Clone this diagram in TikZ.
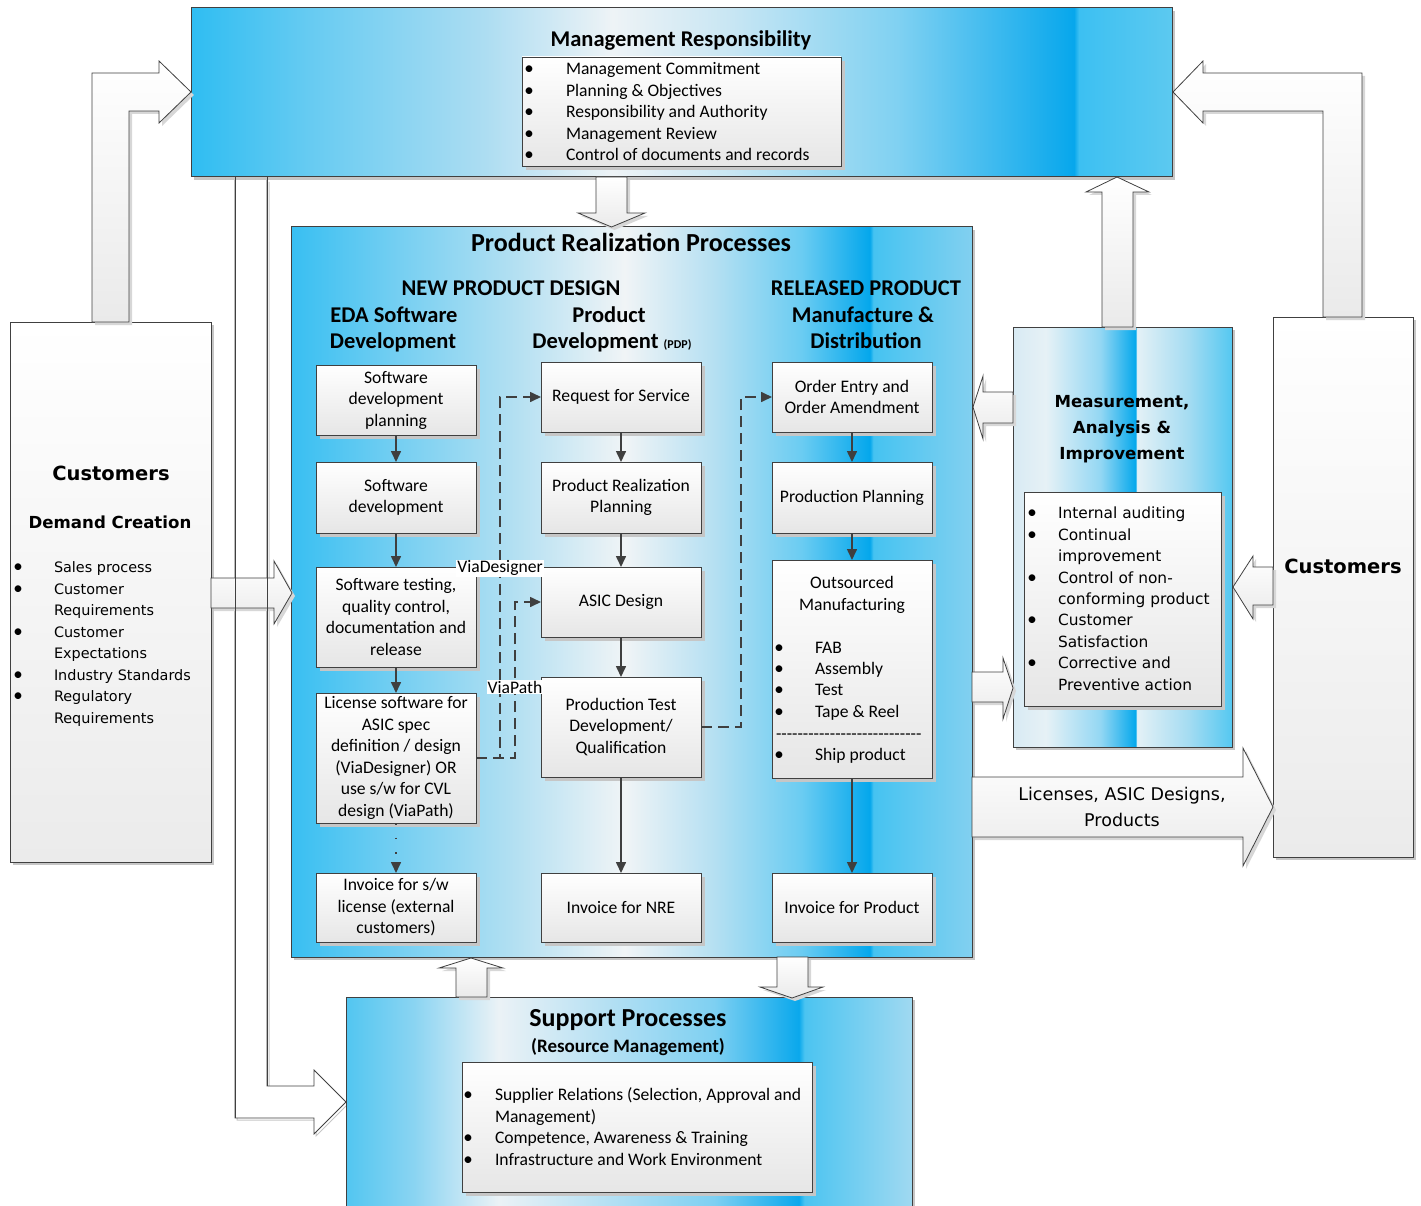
\documentclass[tikz,border=0pt]{standalone}
\usepackage{fontspec}
\setmainfont{Carlito}
\newfontfamily\dvfont{DejaVu Sans}
\usetikzlibrary{arrows.meta,shadows}

% general colours
\definecolor{edgec}{HTML}{404040}
\definecolor{shadowc}{HTML}{C6C6C6}
\definecolor{boxlow}{HTML}{E6E6E6}
\definecolor{arrlow}{HTML}{EAEAEA}
\definecolor{linec}{HTML}{3F3F3F}

% band colours: management responsibility
\definecolor{ma0}{HTML}{2FBDF2}\definecolor{ma1}{HTML}{66CBF2}\definecolor{ma2}{HTML}{ADDDF2}
\definecolor{ma3}{HTML}{EEF3F6}\definecolor{ma4}{HTML}{C8E6F3}\definecolor{ma5}{HTML}{80D1F2}
\definecolor{ma6}{HTML}{07A7EC}\definecolor{ma7}{HTML}{3CC0F2}\definecolor{ma8}{HTML}{5CC9F0}
% product realization
\definecolor{pa0}{HTML}{38BFF2}\definecolor{pa1}{HTML}{72CEF2}\definecolor{pa2}{HTML}{B4E0F2}
\definecolor{pa3}{HTML}{F0F4F6}\definecolor{pa4}{HTML}{B6E0F2}\definecolor{pa5}{HTML}{6ACCF2}
\definecolor{pa6}{HTML}{04A7EC}\definecolor{pa7}{HTML}{45C3F1}\definecolor{pa8}{HTML}{82D0F0}
% support processes
\definecolor{sa0}{HTML}{52C6F1}\definecolor{sa1}{HTML}{8AD4F2}\definecolor{sa2}{HTML}{EBF2F6}
\definecolor{sa3}{HTML}{B8E1F3}\definecolor{sa4}{HTML}{7ED0F2}\definecolor{sa5}{HTML}{0AA8EC}
\definecolor{sa6}{HTML}{4BC4F1}\definecolor{sa7}{HTML}{A0D9F1}
% measurement
\definecolor{qa0}{HTML}{D8EAF3}\definecolor{qa1}{HTML}{E6F1F6}\definecolor{qa2}{HTML}{93D7F3}
\definecolor{qa3}{HTML}{05A8EC}\definecolor{qa4}{HTML}{E4F1F6}\definecolor{qa5}{HTML}{A5DCF2}
\definecolor{qa6}{HTML}{55C8F1}

\pgfdeclarehorizontalshading{mrshade}{100bp}{color(0bp)=(ma0); color(25bp)=(ma0);
  color(31bp)=(ma1); color(40bp)=(ma2); color(46.5bp)=(ma3); color(52.5bp)=(ma4);
  color(61bp)=(ma5); color(70bp)=(ma6); color(70.25bp)=(ma7); color(75bp)=(ma8); color(100bp)=(ma8)}
\pgfdeclarehorizontalshading{prshade}{100bp}{color(0bp)=(pa0); color(25bp)=(pa0);
  color(32.5bp)=(pa1); color(41.5bp)=(pa2); color(49.5bp)=(pa3); color(56bp)=(pa4);
  color(62.5bp)=(pa5); color(67.5bp)=(pa6); color(67.75bp)=(pa7); color(75bp)=(pa8); color(100bp)=(pa8)}
\pgfdeclarehorizontalshading{spshade}{100bp}{color(0bp)=(sa0); color(25bp)=(sa0);
  color(31bp)=(sa1); color(38.5bp)=(sa2); color(47.5bp)=(sa3); color(57.5bp)=(sa4);
  color(65bp)=(sa5); color(65.5bp)=(sa6); color(75bp)=(sa7); color(100bp)=(sa7)}
\pgfdeclarehorizontalshading{mashade}{100bp}{color(0bp)=(qa0); color(25bp)=(qa0);
  color(32.5bp)=(qa1); color(45bp)=(qa2); color(53bp)=(qa3); color(53.25bp)=(qa4);
  color(65bp)=(qa5); color(75bp)=(qa6); color(100bp)=(qa6)}

\newcommand\calbody{\fontsize{17.6}{21.5}\selectfont}
\newcommand\calhead{\fontsize{22.5}{26}\selectfont\bfseries}
\newcommand\calbig{\fontsize{26}{30}\selectfont\bfseries}
\newcommand\dvsmall{\dvfont\fontsize{14.4}{21.5}\selectfont}
\newcommand\dvmid{\dvfont\fontsize{15.4}{21.5}\selectfont}

% a bulleted line: name, bullet x, text x, baseline y, text, font style
\newcommand\bline[6]{%
  \node[ltext,bul,anchor=base] (#1b) at (#2,#4) {\textbullet};
  \node[ltext,#6] (#1) at (#3,#4) {#5};}

\tikzset{
  softshadow/.style={drop shadow={shadow xshift=#1, shadow yshift=-#1, fill=shadowc, opacity=1}},
  bandbox/.style={draw=edgec, line width=1pt, inner sep=0pt, outer sep=0pt,
    anchor=north west, softshadow=3pt},
  whitebox/.style={draw=edgec, line width=0.9pt, top color=white, bottom color=boxlow,
    inner sep=0pt, outer sep=0pt, anchor=north west, softshadow=4pt},
  wbox/.style={whitebox, align=center, font=\calbody, minimum width=160pt},
  barrow/.style={draw=edgec, line width=0.8pt, top color=white, bottom color=arrlow,
    drop shadow={shadow xshift=3pt, shadow yshift=-3pt, fill=shadowc!70, opacity=1}},
  flow/.style={draw=linec, line width=1.6pt, -{Triangle[length=11pt,width=10pt]}},
  dflow/.style={flow, dash pattern=on 11pt off 6pt},
  lbl/.style={fill=white, inner sep=1pt, font=\calbody, text=black},
  ltext/.style={inner sep=0pt, outer sep=0pt, anchor=base west},
  bul/.style={font=\fontsize{19}{21.5}\selectfont},
  cal/.style={font=\calbody},
  dvs/.style={font=\dvsmall},
  dvm/.style={font=\dvmid},
  ctext/.style={inner sep=0pt, anchor=base},
}

\begin{document}
\begin{tikzpicture}[x=1pt,y=-1pt]
\useasboundingbox (0,0) rectangle (1421,1206);

% ---------- management -> support feed (open outline arrow) ----------
\draw[shadowc, line width=1pt, shift={(2,2)}]
  (235,180) -- (235,1118) -- (314,1118) -- (314,1134) -- (346,1102)
  (267,180) -- (267,1086) -- (314,1086) -- (314,1070);
\draw[edgec, line width=0.8pt, fill=white]
  (235,177) -- (235,1118) -- (314,1118) -- (314,1134) -- (346,1102)
  -- (314,1070) -- (314,1086) -- (267,1086) -- (267,177);

% ---------- large process areas ----------
\node[bandbox, shading=mrshade, minimum width=981pt, minimum height=169pt] (mr) at (191,8) {};
\node[bandbox, shading=prshade, minimum width=681pt, minimum height=730pt] (pr) at (291,227) {};
\node[bandbox, shading=spshade, minimum width=566pt, minimum height=225pt] (sp) at (346,997) {};
\node[bandbox, shading=mashade, minimum width=219pt, minimum height=420pt] (ma) at (1013,327) {};
\node[bandbox, top color=white, bottom color=boxlow!80, minimum width=201pt, minimum height=540pt] (cl) at (10,322) {};
\node[bandbox, top color=white, bottom color=boxlow!80, minimum width=140pt, minimum height=540pt] (cr) at (1273,317) {};

% ---------- block arrows ----------
% customers (left) -> management
\draw[barrow] (92,322) -- (92,73) -- (159,73) -- (159,61) -- (191,92) -- (159,123)
  -- (159,111) -- (129,111) -- (129,322) -- cycle;
% customers (right) -> management
\draw[barrow] (1362,317) -- (1362,73) -- (1203,73) -- (1203,61) -- (1173,92) -- (1203,123)
  -- (1203,111) -- (1323,111) -- (1323,317) -- cycle;
% customers (left) -> product realization
\draw[barrow] (211,578) -- (274,578) -- (274,561) -- (292,593) -- (274,624) -- (274,608)
  -- (211,608) -- cycle;
% management -> product realization
\draw[barrow] (596,177) -- (596,213) -- (578,213) -- (611.5,227) -- (645,213) -- (627,213)
  -- (627,177) -- cycle;
% measurement -> management
\draw[barrow] (1102,327) -- (1102,192) -- (1086,192) -- (1117,177) -- (1149,192) -- (1133,192)
  -- (1133,327) -- cycle;
% measurement -> product realization
\draw[barrow] (1013,392) -- (983,392) -- (983,376) -- (973,407) -- (983,439) -- (983,423)
  -- (1013,423) -- cycle;
% product realization -> measurement
\draw[barrow] (972,672) -- (1003,672) -- (1003,658) -- (1013,688) -- (1003,719) -- (1003,702)
  -- (972,702) -- cycle;
% customers (right) -> measurement
\draw[barrow] (1273,567) -- (1253,567) -- (1253,556) -- (1233,587) -- (1253,619) -- (1253,605)
  -- (1273,605) -- cycle;
% product realization -> customers (right)
\draw[barrow] (972,777) -- (1243,777) -- (1243,748) -- (1273,807) -- (1243,866) -- (1243,837)
  -- (972,837) -- cycle;
% product realization -> support
\draw[barrow] (777,957) -- (777,987) -- (760,987) -- (792,998) -- (823,987) -- (808,987)
  -- (808,957) -- cycle;
% support -> product realization
\draw[barrow] (456,997) -- (456,968) -- (439,968) -- (471,958) -- (503,968) -- (487,968)
  -- (487,997) -- cycle;

% outline of the management -> support feed stays visible across the customer arrow
\draw[edgec, line width=0.8pt] (235,177) -- (235,1118) (267,177) -- (267,1086);

% ---------- management responsibility ----------
\node[ctext, font=\calhead] (mrt) at (681,47) {Management Responsibility};
\node[whitebox, minimum width=319pt, minimum height=109pt] (mrl) at (522,57) {};
\bline{mra}{529}{566}{75}{Management Commitment}{cal}
\bline{mrb}{529}{566}{97}{Planning \& Objectives}{cal}
\bline{mrc}{529}{566}{118}{Responsibility and Authority}{cal}
\bline{mrd}{529}{566}{140}{Management Review}{cal}
\bline{mre}{529}{566}{161}{Control of documents and records}{cal}

% ---------- customers (left) ----------
\node[ctext, font=\dvfont\fontsize{19.5}{24}\selectfont\bfseries] (clt) at (111,480) {Customers};
\node[ctext, font=\dvfont\fontsize{16.6}{20}\selectfont\bfseries] (cls) at (110,528) {Demand Creation};
\bline{ca}{18}{54}{572}{Sales process}{dvs}
\bline{cb}{18}{54}{594}{Customer}{dvs}
\node[ltext, dvs] (cb2) at (54,615) {Requirements};
\bline{cc}{18}{54}{637}{Customer}{dvs}
\node[ltext, dvs] (cc2) at (54,658) {Expectations};
\bline{cd}{18}{54}{680}{Industry Standards}{dvs}
\bline{ce}{18}{54}{701}{Regulatory}{dvs}
\node[ltext, dvs] (ce2) at (54,723) {Requirements};

% ---------- customers (right) ----------
\node[ctext, font=\dvfont\fontsize{19.5}{24}\selectfont\bfseries] (crt) at (1343,573) {Customers};

% ---------- measurement, analysis & improvement ----------
\node[ctext, font=\dvfont\fontsize{16.6}{26}\selectfont\bfseries] (mat) at (1122,407) {Measurement,};
\node[ctext, font=\dvfont\fontsize{16.6}{26}\selectfont\bfseries] (mat2) at (1122,433) {Analysis \&};
\node[ctext, font=\dvfont\fontsize{16.6}{26}\selectfont\bfseries] (mat3) at (1122,459) {Improvement};
\node[whitebox, minimum width=197pt, minimum height=214pt] (mal) at (1024,492) {};
\bline{qa}{1032}{1058}{518}{Internal auditing}{dvm}
\bline{qb}{1032}{1058}{540}{Continual}{dvm}
\node[ltext, dvm] (qb2) at (1058,561) {improvement};
\bline{qc}{1032}{1058}{583}{Control of non-}{dvm}
\node[ltext, dvm] (qc2) at (1058,604) {conforming product};
\bline{qd}{1032}{1058}{625}{Customer}{dvm}
\node[ltext, dvm] (qd2) at (1058,647) {Satisfaction};
\bline{qe}{1032}{1058}{668}{Corrective and}{dvm}
\node[ltext, dvm] (qe2) at (1058,690) {Preventive action};

% deliverables label
\node[ctext, font=\dvfont\fontsize{17.5}{26}\selectfont] (deliv) at (1122,800) {Licenses, ASIC Designs,};
\node[ctext, font=\dvfont\fontsize{17.5}{26}\selectfont] (deliv2) at (1122,826) {Products};

% ---------- product realization headings ----------
\node[ctext, font=\calbig] (prt) at (631,252) {Product Realization Processes};
\node[ctext, font=\calhead] (npd) at (511,295) {NEW PRODUCT DESIGN};
\node[ctext, font=\calhead] (eda1) at (394,322) {EDA Software};
\node[ctext, font=\calhead] (eda2) at (393,348) {Development};
\node[ctext, font=\calhead] (pdp1) at (609,322) {Product};
\node[ctext, font=\calhead] (pdp2) at (612,348) {Development {\fontsize{12}{14}\selectfont (PDP)}};
\node[ctext, font=\calhead] (rel1) at (866,295) {RELEASED PRODUCT};
\node[ctext, font=\calhead] (rel2) at (863,322) {Manufacture \&};
\node[ctext, font=\calhead] (rel3) at (866,348) {Distribution};

% ---------- EDA software column ----------
\node[wbox, minimum height=70pt] (sdp) at (316,365) {Software\\development\\planning};
\node[wbox, minimum height=71pt] (sdv) at (316,462) {Software\\development};
\node[wbox, minimum height=100pt] (stq) at (316,567) {Software testing,\\quality control,\\documentation and\\release};
\node[wbox, minimum height=130pt] (lic) at (316,693) {License software for\\ASIC spec\\definition / design\\(ViaDesigner) OR\\use s/w for CVL\\design (ViaPath)};
\node[wbox, minimum height=69pt] (isw) at (316,873) {Invoice for s/w\\license (external\\customers)};

% ---------- product development column ----------
\node[wbox, minimum height=70pt] (rfs) at (541,362) {Request for Service};
\node[wbox, minimum height=71pt] (prp) at (541,462) {Product Realization\\Planning};
\node[wbox, minimum height=70pt] (asic) at (541,567) {ASIC Design};
\node[wbox, minimum height=100pt] (ptd) at (541,677) {Production Test\\Development/\\Qualification};
\node[wbox, minimum height=69pt] (nre) at (541,873) {Invoice for NRE};

% ---------- manufacture & distribution column ----------
\node[wbox, minimum height=70pt] (oe) at (772,362) {Order Entry and\\Order Amendment};
\node[wbox, minimum height=71pt] (pp) at (772,462) {Production Planning};
\node[wbox, minimum height=218pt] (om) at (772,560) {};
\node[wbox, minimum height=69pt] (ip) at (772,873) {Invoice for Product};
\node[ctext, cal] (omt1) at (852,588) {Outsourced};
\node[ctext, cal] (omt2) at (852,610) {Manufacturing};
\bline{oa}{779}{815}{653}{FAB}{cal}
\bline{ob}{779}{815}{674}{Assembly}{cal}
\bline{oc}{779}{815}{695}{Test}{cal}
\bline{od}{779}{815}{717}{Tape \& Reel}{cal}
\node[ltext, cal] (osep) at (776,739) {-{}-{}-{}-{}-{}-{}-{}-{}-{}-{}-{}-{}-{}-{}-{}-{}-{}-{}-{}-{}-{}-{}-{}-{}-{}-{}-{}};
\bline{oe2}{779}{815}{760}{Ship product}{cal}

% ---------- flow connectors ----------
\draw[flow] (sdp.south) -- (sdv.north);
\draw[flow] (sdv.south) -- (stq.north);
\draw[flow] (stq.south) -- (lic.north);
\draw[flow, dash pattern=on 1.6pt off 13pt] (lic.south) -- (isw.north);
\draw[flow] (rfs.south) -- (prp.north);
\draw[flow] (prp.south) -- (asic.north);
\draw[flow] (asic.south) -- (ptd.north);
\draw[flow] (ptd.south) -- (nre.north);
\draw[flow] (oe.south) -- (pp.north);
\draw[flow] (pp.south) -- (om.north);
\draw[flow] (om.south) -- (ip.north);
\draw[dflow] (lic.east) -- ++(24,0) |- node[pos=0.263, lbl] (vdl) {ViaDesigner} (rfs.west);
\draw[dflow] (lic.east) -- ++(39,0) |- node[pos=0.2276, lbl] (vpl) {ViaPath} (asic.west);
\draw[dflow] (ptd.east) -- ++(40,0) |- (oe.west);

% ---------- support processes ----------
\node[ctext, font=\calbig] (spt) at (628,1026) {Support Processes};
\node[ctext, font=\fontsize{19}{22}\selectfont\bfseries] (sps) at (628,1052) {(Resource Management)};
\node[whitebox, minimum width=350pt, minimum height=130pt] (spl) at (462,1062) {};
\bline{sa}{468}{495}{1100}{Supplier Relations (Selection, Approval and}{cal}
\node[ltext, cal] (sa2) at (495,1122) {Management)};
\bline{sb}{468}{495}{1143}{Competence, Awareness \& Training}{cal}
\bline{sc}{468}{495}{1165}{Infrastructure and Work Environment}{cal}

\end{tikzpicture}
\end{document}
